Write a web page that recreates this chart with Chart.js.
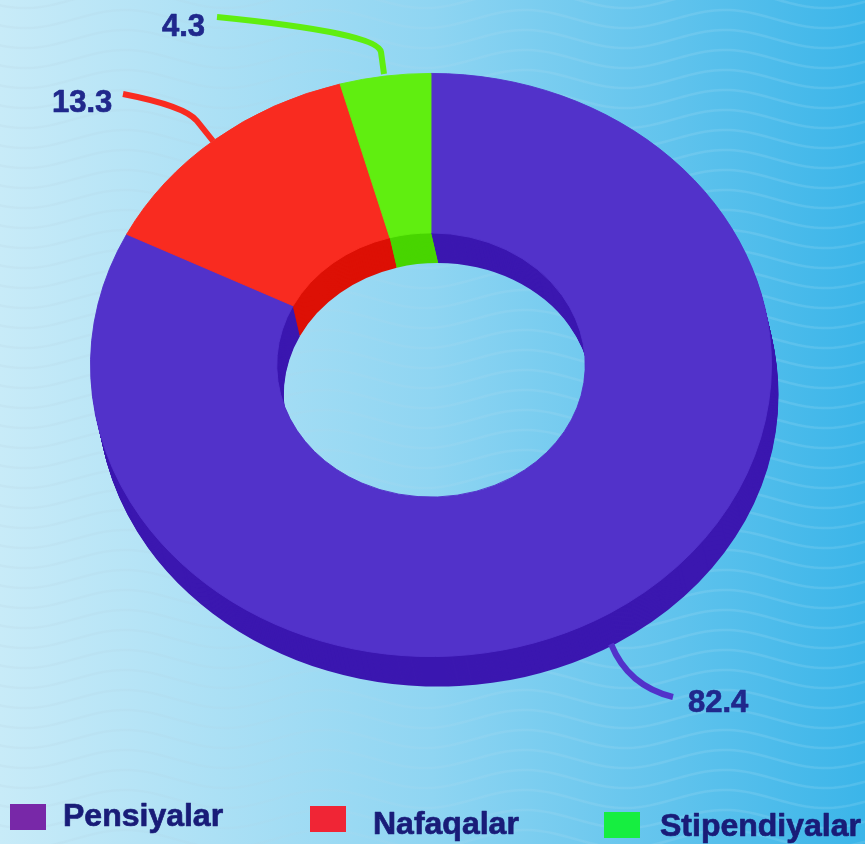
<!DOCTYPE html>
<html>
<head>
<meta charset="utf-8">
<title>Pensiyalar, Nafaqalar, Stipendiyalar</title>
<script src="https://cdn.jsdelivr.net/npm/chart.js@4"></script>
<style>
  html, body { margin: 0; padding: 0; overflow: hidden; background: #8fd5f2; }
  canvas { display: block; }
</style>
</head>
<body>
<canvas id="donutChart" width="865" height="844"></canvas>
<script>
var categories = ['Pensiyalar', 'Nafaqalar', 'Stipendiyalar'];
var values = [82.4, 13.3, 4.3];
var valueLabels = ['82.4', '13.3', '4.3'];

var topColors = ['#5232ca', '#f92b20', '#60ee10'];
var sideColors = ['#3b17b0', '#dd1005', '#48d500'];
var swatchColors = ['#7828a8', '#f02535', '#16ee40'];

// ellipse + extrusion of the ring
var squash = 292 / 341;
var centerY = 365;
var depthX = 7;
var depthY = 30;

// leader lines and text placement
var leaders = [
  { color: '#5232ca', text: [688, 703], path: [[611, 644], [628, 686], [673, 697]] },
  { color: '#f92b20', text: [52, 103], path: [[123, 94], [185, 106], [197, 121], [213, 141]] },
  { color: '#60ee10', text: [162, 27], path: [[217, 17], [378, 33], [381, 52], [384, 74]] }
];
var legendItems = [
  { box: [10, 804, 36, 26], text: [63, 817] },
  { box: [310, 806, 36, 26], text: [373, 825] },
  { box: [604, 812, 36, 26], text: [660, 827] }
];

function squashRing(ctx, arc) {
  ctx.translate(arc.x, centerY);
  ctx.scale(1, squash);
  ctx.translate(-arc.x, -arc.y);
}

function outlinedText(ctx, str, x, y) {
  ctx.fillText(str, x, y);
  ctx.strokeText(str, x, y);
}

var ringPlugin = {
  id: 'ring',
  beforeDraw: function(chart) {
    var ctx = chart.ctx;
    var w = chart.width, h = chart.height;
    var grad = ctx.createLinearGradient(0, 0, w, 0);
    grad.addColorStop(0, '#c8ebf8');
    grad.addColorStop(0.5, '#8fd5f2');
    grad.addColorStop(1, '#3bb5e9');
    ctx.save();
    ctx.fillStyle = grad;
    ctx.fillRect(0, 0, w, h);
    // faint waves in the backdrop, grey on the pale side, white on the blue side
    var waveGrad = ctx.createLinearGradient(0, 0, w, 0);
    waveGrad.addColorStop(0, 'rgba(165,185,200,0.1)');
    waveGrad.addColorStop(0.5, 'rgba(190,220,235,0.12)');
    waveGrad.addColorStop(1, 'rgba(255,255,255,0.11)');
    ctx.strokeStyle = waveGrad;
    ctx.lineWidth = 2.5;
    for (var y = -1; y < h + 20; y += 20) {
      ctx.beginPath();
      ctx.moveTo(-10, y);
      for (var x = -10; x <= w + 10; x += 4) {
        ctx.lineTo(x, y - 9 * Math.cos((x - 125) / 200 * 2 * Math.PI));
      }
      ctx.stroke();
    }
    ctx.restore();
  },
  beforeDatasetsDraw: function(chart) {
    var ctx = chart.ctx;
    var arcs = chart.getDatasetMeta(0).data;
    // side wall, stacked from the bottom up
    for (var i = depthY; i > 0; i--) {
      ctx.save();
      ctx.translate(depthX * i / depthY, i);
      squashRing(ctx, arcs[0]);
      arcs.forEach(function(arc, n) {
        var side = Object.create(arc);
        side.options = Object.assign({}, arc.options, { backgroundColor: sideColors[n], borderWidth: 0 });
        side.draw(ctx);
      });
      ctx.restore();
    }
    ctx.save();
    squashRing(ctx, arcs[0]);
  },
  afterDatasetsDraw: function(chart) {
    chart.ctx.restore();
  },
  afterDraw: function(chart) {
    var ctx = chart.ctx;
    ctx.save();
    ctx.lineJoin = 'round';
    ctx.lineCap = 'butt';
    ctx.textBaseline = 'middle';
    ctx.textAlign = 'left';
    leaders.forEach(function(l, n) {
      var p = l.path;
      ctx.strokeStyle = l.color;
      ctx.lineWidth = 6;
      ctx.beginPath();
      ctx.moveTo(p[0][0], p[0][1]);
      ctx.quadraticCurveTo(p[1][0], p[1][1], p[2][0], p[2][1]);
      if (p.length > 3) {
        ctx.lineTo(p[3][0], p[3][1]);
      }
      ctx.stroke();
      ctx.fillStyle = '#20288c';
      ctx.strokeStyle = '#20288c';
      ctx.lineWidth = 0.7;
      ctx.font = 'bold 31px "Liberation Sans", Arial, sans-serif';
      outlinedText(ctx, valueLabels[n], l.text[0], l.text[1]);
    });
    legendItems.forEach(function(item, n) {
      ctx.fillStyle = swatchColors[n];
      ctx.fillRect(item.box[0], item.box[1], item.box[2], item.box[3]);
      ctx.fillStyle = '#191c78';
      ctx.strokeStyle = '#191c78';
      ctx.lineWidth = 0.7;
      ctx.font = 'bold 32px "Liberation Sans", Arial, sans-serif';
      outlinedText(ctx, categories[n], item.text[0], item.text[1]);
    });
    ctx.restore();
  }
};

var donutChart = new Chart(document.getElementById('donutChart').getContext('2d'), {
  type: 'doughnut',
  data: {
    labels: categories,
    datasets: [{
      data: values,
      backgroundColor: topColors,
      borderColor: topColors,
      borderWidth: 1,
      clip: false
    }]
  },
  options: {
    responsive: false,
    animation: false,
    cutout: '45.3%',
    layout: { padding: { left: 90, right: 93, top: 0, bottom: 0 } },
    plugins: { legend: { display: false }, tooltip: { enabled: false } }
  },
  plugins: [ringPlugin]
});
</script>
</body>
</html>
